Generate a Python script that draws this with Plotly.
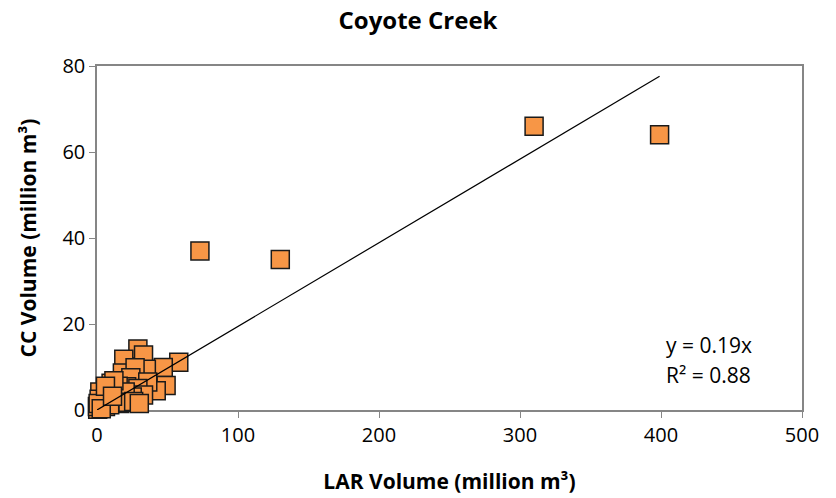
import plotly.graph_objects as go

# LAR vs Coyote Creek storm volumes (million m³)
lar_volume = [310, 399, 73, 130,
              29, 33, 19, 58, 47, 35, 18, 27, 24, 49, 42, 36, 21, 29, 10, 15,
              12, 6, 33, 25, 18, 8, 5, 3, 2, 1, 0.5, 4, 7, 14, 20, 16, 9, 22,
              12, 2, 1.5, 0.3, 0.8, 3, 6, 11, 26, 30]
cc_volume = [66, 64, 37, 35,
             14.2, 12.8, 11.8, 11.1, 9.9, 9.5, 8.6, 9.8, 7.5, 5.7, 4.5, 6.5, 5.4, 5.0, 6.2, 5.5,
             2.3, 0.8, 3.5, 3.0, 2.8, 4.0, 3.0, 2.0, 1.0, 0.5, 0.2, 1.5, 2.5, 4.0, 4.2, 1.5, 1.2, 1.8,
             6.8, 4.2, 2.5, 0.8, 1.5, 0.3, 5.5, 3.2, 2.0, 1.5]

# Linear fit through the origin
slope = 0.1945
r_squared = 0.88
fit_x = [0, max(lar_volume)]
fit_y = [slope * v for v in fit_x]

x_ticks = [0, 100, 200, 300, 400, 500]
y_ticks = [0, 20, 40, 60, 80]

font_family = "'Open Sans', Lato, sans-serif"

fig = go.Figure()
fig.add_trace(go.Scatter(
    x=lar_volume, y=cc_volume, mode="markers",
    marker=dict(symbol="square", size=18, color="#F79646",
                line=dict(color="#1a1a1a", width=1.5)),
    cliponaxis=False, showlegend=False,
))
fig.add_trace(go.Scatter(
    x=fit_x, y=fit_y, mode="lines",
    line=dict(color="black", width=1.2),
    cliponaxis=False, showlegend=False,
))

# Fit equation and R² beneath the line
for label, ypos in [(f"y = {slope:.2f}x", 0.189), (f"R² = {r_squared:.2f}", 0.102)]:
    fig.add_annotation(
        x=0.804, y=ypos, xref="paper", yref="paper",
        xanchor="left", yanchor="middle", align="left",
        text=label, showarrow=False,
        font=dict(size=21, color="black", family=font_family),
    )

fig.update_layout(
    width=836, height=498,
    margin=dict(l=97, r=34, t=66, b=88),
    paper_bgcolor="white", plot_bgcolor="white",
    font=dict(family=font_family, color="black"),
    title=dict(text="<b>Coyote Creek</b>", x=0.5, xanchor="center",
               y=0.958, yanchor="middle", font=dict(size=24)),
    xaxis=dict(
        range=[0, 500], tickvals=x_ticks, ticktext=[str(v) for v in x_ticks],
        showgrid=False, zeroline=False, showline=True, linecolor="#868686",
        linewidth=1.5, mirror=True, ticks="outside", ticklen=6, tickcolor="#868686",
        tickfont=dict(size=20), layer="below traces", automargin=False,
        title=dict(text="<b>LAR Volume (million m³)</b>", font=dict(size=21), standoff=28),
    ),
    yaxis=dict(
        range=[0, 80], tickvals=y_ticks, ticktext=[str(v) for v in y_ticks],
        showgrid=False, zeroline=False, showline=True, linecolor="#868686",
        linewidth=1.5, mirror=True, ticks="outside", ticklen=6, tickcolor="#868686",
        tickfont=dict(size=20), layer="below traces", automargin=False,
        title=dict(text="<b>CC Volume (million m³)</b>", font=dict(size=21), standoff=20),
    ),
)

fig.write_html("out.html")
